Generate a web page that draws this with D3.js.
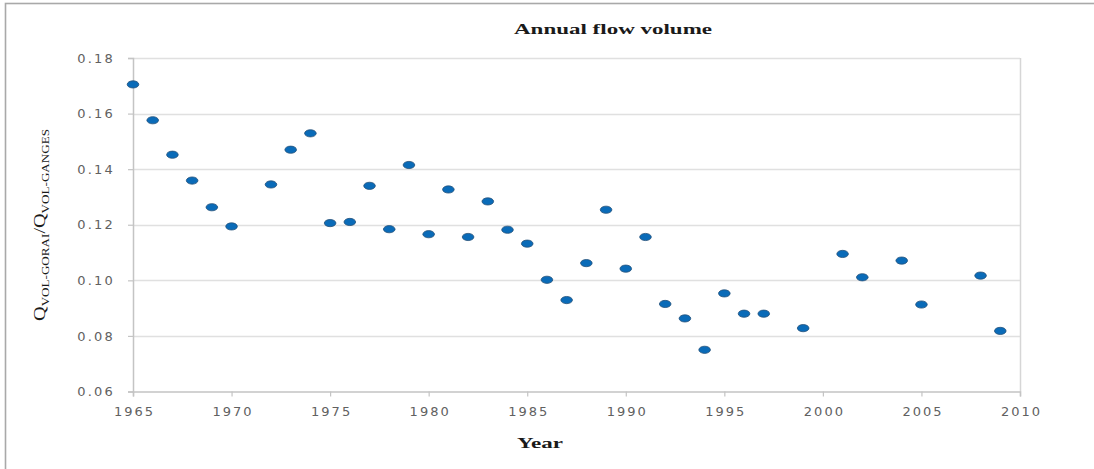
<!DOCTYPE html>
<html>
<head>
<meta charset="utf-8">
<script src="https://cdn.jsdelivr.net/npm/d3@7"></script>
<style>
html,body{margin:0;padding:0;background:#fff;overflow:hidden;}
</style>
</head>
<body>
<script>
const years = [1965,1966,1967,1968,1969,1970,1972,1973,1974,1975,1976,1977,1978,1979,1980,1981,1982,1983,1984,1985,1986,1987,1988,1989,1990,1991,1992,1993,1994,1995,1996,1997,1999,2001,2002,2004,2005,2008,2009];
const ratios = [0.1705,0.1576,0.1452,0.1359,0.1263,0.1194,0.1345,0.1470,0.1529,0.1206,0.1210,0.1340,0.1184,0.1415,0.1166,0.1327,0.1156,0.1284,0.1182,0.1132,0.1002,0.0929,0.1062,0.1254,0.1042,0.1156,0.0915,0.0863,0.0750,0.0953,0.0880,0.0880,0.0828,0.1095,0.1011,0.1071,0.0913,0.1017,0.0818];
const xTicks = [1965,1970,1975,1980,1985,1990,1995,2000,2005,2010];
const yTicks = [0.06,0.08,0.10,0.12,0.14,0.16,0.18];
const titleText = "Annual flow volume";
const xLabel = "Year";

const W = 1094, H = 469;
const svg = d3.select("body").append("svg").attr("width", W).attr("height", H);

// outer frame
svg.append("rect").attr("x", 5.5).attr("y", 3.5).attr("width", 1200).attr("height", 1000)
  .attr("fill", "none").attr("stroke", "#a9a9a9").attr("stroke-width", 1.6);

const x = d3.scaleLinear().domain([1965, 2010]).range([133, 1020]);
const y = d3.scaleLinear().domain([0.06, 0.18]).range([391.5, 58]);

// gridlines
svg.append("g").selectAll("line").data(yTicks.filter(v => v > 0.06)).join("line")
  .attr("x1", x(1965)).attr("x2", x(2010))
  .attr("y1", d => Math.round(y(d)) + 0.5).attr("y2", d => Math.round(y(d)) + 0.5)
  .attr("stroke", "#e0e0e0").attr("stroke-width", 1.5);

// right border of plot area
svg.append("line").attr("x1", x(2010) + 0.5).attr("x2", x(2010) + 0.5)
  .attr("y1", y(0.18)).attr("y2", y(0.06))
  .attr("stroke", "#d6d6d6").attr("stroke-width", 1.5);

// y axis
const yAxis = d3.axisLeft(y).tickValues(yTicks).tickFormat(d3.format(".2f")).tickSize(5).tickPadding(13);
const gy = svg.append("g").attr("transform", `translate(${x(1965)},0)`).call(yAxis);
gy.select(".domain").attr("stroke", "#c4c4c4").attr("stroke-width", 1.5);
gy.selectAll(".tick line").attr("stroke", "#c4c4c4").attr("stroke-width", 1.2);
gy.selectAll(".tick text").attr("fill", "#616161").attr("font-family", "DejaVu Sans, sans-serif")
  .attr("font-size", 13).attr("letter-spacing", 2.2);

// x axis
const xAxis = d3.axisBottom(x).tickValues(xTicks).tickFormat(d3.format("d")).tickSize(5).tickPadding(10);
const gx = svg.append("g").attr("transform", `translate(0,${y(0.06)})`).call(xAxis);
gx.select(".domain").attr("stroke", "#c4c4c4").attr("stroke-width", 1.5);
gx.selectAll(".tick line").attr("stroke", "#c4c4c4").attr("stroke-width", 1.2);
gx.selectAll(".tick text").attr("fill", "#616161").attr("font-family", "DejaVu Sans, sans-serif")
  .attr("font-size", 13).attr("letter-spacing", 2).attr("dx", 1);

// points
svg.append("g").selectAll("ellipse").data(years.map((yr, i) => ({yr, v: ratios[i]}))).join("ellipse")
  .attr("cx", d => x(d.yr)).attr("cy", d => y(d.v))
  .attr("rx", 5.8).attr("ry", 3.6)
  .attr("fill", "#0a6bb8").attr("stroke", "#245079").attr("stroke-width", 0.8);

// title
svg.append("text").attr("x", 613).attr("y", 34).attr("text-anchor", "middle")
  .attr("font-family", "Liberation Serif, serif").attr("font-weight", "bold").attr("font-size", 14)
  .attr("textLength", 198).attr("lengthAdjust", "spacingAndGlyphs")
  .attr("fill", "#1a1a1a").text(titleText);

// x label
svg.append("text").attr("x", 540).attr("y", 448).attr("text-anchor", "middle")
  .attr("font-family", "Liberation Serif, serif").attr("font-weight", "bold").attr("font-size", 14)
  .attr("textLength", 46).attr("lengthAdjust", "spacingAndGlyphs")
  .attr("fill", "#1a1a1a").text(xLabel);

// y label
const yl = svg.append("text").attr("transform", "translate(45,225) rotate(-90)")
  .attr("text-anchor", "middle")
  .attr("font-family", "Liberation Serif, serif").attr("font-size", 17)
  .attr("textLength", 192).attr("lengthAdjust", "spacingAndGlyphs")
  .attr("fill", "#1a1a1a");
yl.append("tspan").text("Q");
yl.append("tspan").attr("font-size", 11).attr("dy", 4).text("VOL-GORAI");
yl.append("tspan").attr("dy", -4).text("/");
yl.append("tspan").text("Q");
yl.append("tspan").attr("font-size", 11).attr("dy", 4).text("VOL-GANGES");
</script>
</body>
</html>
